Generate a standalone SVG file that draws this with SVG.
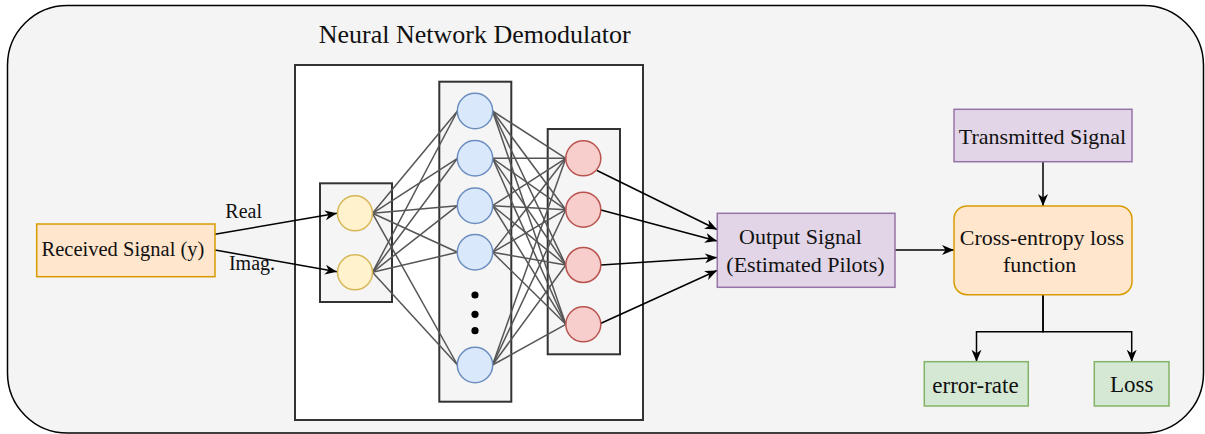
<svg xmlns="http://www.w3.org/2000/svg" width="1205" height="434" viewBox="0 0 1205 434">
<style>
  text { font-family: "Liberation Serif", "Times New Roman", serif; fill: #111; text-anchor: middle; }
  .t22 { font-size: 22px; }
  .t20 { font-size: 20px; }
  .layer { fill: #f5f5f5; stroke: #333; stroke-width: 2; }
  .yel { fill: #fff2cc; stroke: #d6b656; stroke-width: 1.5; }
  .blu { fill: #dae8fc; stroke: #6c8ebf; stroke-width: 1.5; }
  .red { fill: #f8cecc; stroke: #b85450; stroke-width: 1.5; }
  .purple { fill: #e1d5e7; stroke: #9673a6; stroke-width: 1.5; }
  .orange { fill: #ffe6cc; stroke: #d79b00; stroke-width: 1.5; }
  .green { fill: #d5e8d4; stroke: #82b366; stroke-width: 1.5; }
  .nn line { stroke: #555; stroke-width: 1.5; }
  .arr { stroke: #000; stroke-width: 1.5; fill: none; marker-end: url(#ah); }
</style>
<defs>
  <marker id="ah" markerUnits="userSpaceOnUse" markerWidth="14" markerHeight="12" refX="12" refY="5" orient="auto" viewBox="0 0 14 10">
    <path d="M12,5 L0,0 L3.5,5 L0,10 Z" fill="#000"/>
  </marker>
</defs>

<g id="background">
  <rect x="7.5" y="5.5" width="1196" height="427.5" rx="60" ry="60" fill="#f4f4f4" stroke="#000" stroke-width="1.5"/>
</g>

<g id="nn-demodulator">
  <rect x="295" y="65" width="348" height="355" fill="#ffffff" stroke="#333" stroke-width="2"/>
  <text class="t20" x="474.7" y="43.3" style="font-size:26px">Neural Network Demodulator</text>
</g>
<g id="input-layer"><rect class="layer" x="320" y="183.3" width="72" height="118.7"/></g>
<g id="hidden-layer"><rect class="layer" x="439.3" y="81.7" width="72" height="320"/></g>
<g id="output-layer"><rect class="layer" x="547.7" y="129" width="72.3" height="225.3"/></g>

<g id="connectors">
  <g class="nn">
    <!-- input -> hidden -->
    <line x1="372.5" y1="213.3" x2="457.5" y2="111"/>
    <line x1="372.5" y1="213.3" x2="457.5" y2="158.3"/>
    <line x1="372.5" y1="213.3" x2="457.5" y2="205.7"/>
    <line x1="372.5" y1="213.3" x2="457.5" y2="252.3"/>
    <line x1="372.5" y1="213.3" x2="457.5" y2="365"/>
    <line x1="372.5" y1="272.3" x2="457.5" y2="111"/>
    <line x1="372.5" y1="272.3" x2="457.5" y2="158.3"/>
    <line x1="372.5" y1="272.3" x2="457.5" y2="205.7"/>
    <line x1="372.5" y1="272.3" x2="457.5" y2="252.3"/>
    <line x1="372.5" y1="272.3" x2="457.5" y2="365"/>
    <!-- hidden -> output -->
    <line x1="492.5" y1="111" x2="565.8" y2="158.3"/>
    <line x1="492.5" y1="111" x2="565.8" y2="209.7"/>
    <line x1="492.5" y1="111" x2="565.8" y2="265"/>
    <line x1="492.5" y1="111" x2="565.8" y2="324.3"/>
    <line x1="492.5" y1="158.3" x2="565.8" y2="158.3"/>
    <line x1="492.5" y1="158.3" x2="565.8" y2="209.7"/>
    <line x1="492.5" y1="158.3" x2="565.8" y2="265"/>
    <line x1="492.5" y1="158.3" x2="565.8" y2="324.3"/>
    <line x1="492.5" y1="205.7" x2="565.8" y2="158.3"/>
    <line x1="492.5" y1="205.7" x2="565.8" y2="209.7"/>
    <line x1="492.5" y1="205.7" x2="565.8" y2="265"/>
    <line x1="492.5" y1="205.7" x2="565.8" y2="324.3"/>
    <line x1="492.5" y1="252.3" x2="565.8" y2="158.3"/>
    <line x1="492.5" y1="252.3" x2="565.8" y2="209.7"/>
    <line x1="492.5" y1="252.3" x2="565.8" y2="265"/>
    <line x1="492.5" y1="252.3" x2="565.8" y2="324.3"/>
    <line x1="492.5" y1="365" x2="565.8" y2="158.3"/>
    <line x1="492.5" y1="365" x2="565.8" y2="209.7"/>
    <line x1="492.5" y1="365" x2="565.8" y2="265"/>
    <line x1="492.5" y1="365" x2="565.8" y2="324.3"/>
  </g>
  <!-- received -> input -->
  <line class="arr" x1="215" y1="234.3" x2="337" y2="213.3"/>
  <line class="arr" x1="215" y1="250" x2="337" y2="271.7"/>
  <text class="t20" x="243.7" y="218.3">Real</text>
  <text class="t20" x="252" y="269.5">Imag.</text>
  <!-- output layer -> output signal -->
  <line class="arr" x1="597" y1="170.5" x2="717" y2="229.5"/>
  <line class="arr" x1="601" y1="210" x2="717" y2="241"/>
  <line class="arr" x1="601" y1="265" x2="717" y2="257.5"/>
  <line class="arr" x1="600.5" y1="323.5" x2="717" y2="270.5"/>
  <!-- output signal -> cross-entropy -->
  <line class="arr" x1="895" y1="250" x2="954" y2="250"/>
  <!-- transmitted -> cross-entropy -->
  <line class="arr" x1="1043" y1="161.7" x2="1043" y2="206"/>
  <!-- cross-entropy -> error-rate / loss -->
  <path class="arr" d="M1043,294.7 V331.7 H976.5 V361.7"/>
  <path class="arr" d="M1043,294.7 V331.7 H1131.7 V361.7"/>
</g>

<g id="in1"><circle class="yel" cx="355" cy="213.3" r="17.5"/></g>
<g id="in2"><circle class="yel" cx="355" cy="272.3" r="17.5"/></g>

<g id="h1"><circle class="blu" cx="475" cy="111" r="17.7"/></g>
<g id="h2"><circle class="blu" cx="475" cy="158.3" r="17.7"/></g>
<g id="h3"><circle class="blu" cx="475" cy="205.7" r="17.7"/></g>
<g id="h4"><circle class="blu" cx="475" cy="252.3" r="17.7"/></g>
<g id="h-dots">
  <circle cx="475" cy="295" r="3.6" fill="#000"/>
  <circle cx="475" cy="314.3" r="3.6" fill="#000"/>
  <circle cx="475" cy="330.7" r="3.6" fill="#000"/>
</g>
<g id="h5"><circle class="blu" cx="475" cy="365" r="17.7"/></g>

<g id="o1"><circle class="red" cx="583.3" cy="158.3" r="17.5"/></g>
<g id="o2"><circle class="red" cx="583.3" cy="209.7" r="17.5"/></g>
<g id="o3"><circle class="red" cx="583.3" cy="265" r="17.5"/></g>
<g id="o4"><circle class="red" cx="583.3" cy="324.3" r="17.5"/></g>

<g id="received-signal">
  <rect class="orange" x="36.7" y="224" width="178.3" height="52.7"/>
  <text x="123" y="256" style="font-size:20.5px">Received Signal (y)</text>
</g>

<g id="output-signal">
  <rect class="purple" x="717.3" y="213.3" width="177.7" height="74"/>
  <text class="t22" x="800.5" y="244.3">Output Signal</text>
  <text class="t22" x="805.5" y="271.7">(Estimated Pilots)</text>
</g>

<g id="transmitted-signal">
  <rect class="purple" x="954" y="109.3" width="178" height="52.4"/>
  <text class="t22" x="1042.5" y="144">Transmitted Signal</text>
</g>

<g id="cross-entropy">
  <rect class="orange" x="954" y="206" width="178" height="88.7" rx="13" ry="13"/>
  <text class="t22" x="1042" y="245">Cross-entropy loss</text>
  <text class="t22" x="1039.7" y="271.7">function</text>
</g>

<g id="error-rate">
  <rect class="green" x="924.3" y="361.7" width="104" height="44.3"/>
  <text x="975.5" y="393.3" style="font-size:23px">error-rate</text>
</g>

<g id="loss">
  <rect class="green" x="1094.3" y="361.7" width="74.7" height="44.3"/>
  <text x="1131.7" y="392.3" style="font-size:23px">Loss</text>
</g>
</svg>
